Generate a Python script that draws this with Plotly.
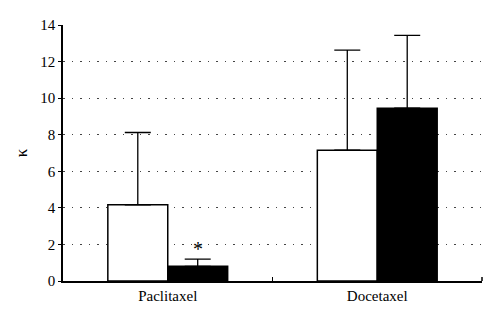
import plotly.graph_objects as go

categories = ["Paclitaxel", "Docetaxel"]
open_values = [4.17, 7.15]
open_err = [3.95, 5.48]      # upper error (SD)
filled_values = [0.8, 9.45]
filled_err = [0.4, 3.98]
y_ticks = [0, 2, 4, 6, 8, 10, 12, 14]

font_family = "Liberation Serif, Times New Roman, serif"

fig = go.Figure()
fig.add_trace(go.Bar(
    x=categories, y=open_values,
    marker=dict(color="white", line=dict(color="black", width=1.5)),
    error_y=dict(type="data", symmetric=False, array=open_err,
                 arrayminus=[0, 0], color="black", thickness=1.3, width=13),
    showlegend=False,
))
fig.add_trace(go.Bar(
    x=categories, y=filled_values,
    marker=dict(color="black", line=dict(color="black", width=1.5)),
    error_y=dict(type="data", symmetric=False, array=filled_err,
                 arrayminus=[0, 0], color="black", thickness=1.3, width=13),
    showlegend=False,
))

# significance marker above the paclitaxel filled bar
fig.add_annotation(
    x=0.143, y=filled_values[0] + filled_err[0], xref="x", yref="y",
    text="*", showarrow=False, yanchor="bottom", yshift=-3,
    font=dict(family=font_family, size=20, color="black"),
)

# closing tick at the right end of the category axis
fig.add_shape(type="line", xref="paper", yref="paper", x0=1, x1=1,
              y0=0, y1=0.016, line=dict(color="black", width=1.5))

fig.update_layout(
    width=500, height=323,
    margin=dict(l=63, r=18, t=25, b=42),
    paper_bgcolor="white", plot_bgcolor="white",
    barmode="group", bargap=0.428, bargroupgap=0,
    font=dict(family=font_family, size=15, color="black"),
)
fig.update_xaxes(
    range=[-0.5, 1.5], showline=True, linecolor="black", linewidth=1.5,
    ticks="inside", tickson="boundaries", ticklen=4, tickcolor="black",
    tickwidth=1.3, showgrid=False, tickfont=dict(size=15),
)
fig.update_yaxes(
    range=[0, 14], tickvals=y_ticks, showline=True, linecolor="black",
    linewidth=1.5, ticks="outside", ticklen=3, tickcolor="black",
    tickwidth=1.3, showgrid=True, gridcolor="#444444", gridwidth=1,
    griddash="1.5px,7px", zeroline=False, tickfont=dict(size=15),
    title=dict(text="κ", font=dict(size=17), standoff=8),
)

fig.write_html("out.html")
